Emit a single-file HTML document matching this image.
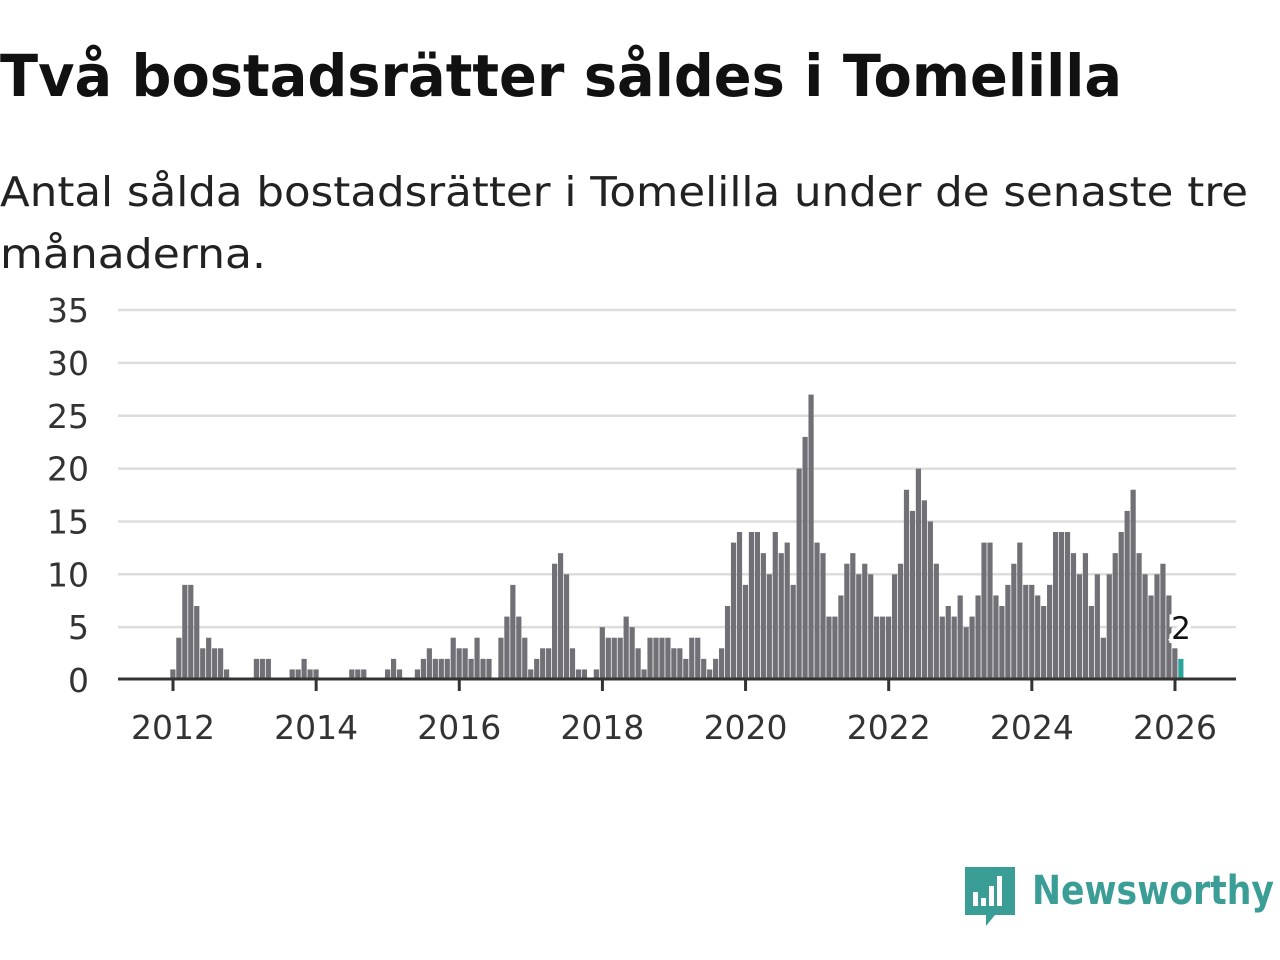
<!DOCTYPE html>
<html><head><meta charset="utf-8"><style>
html,body{margin:0;padding:0;background:#fff;}
svg{display:block;font-family:"DejaVu Sans","Liberation Sans",sans-serif;}
</style></head><body>
<svg id="chart" width="1280" height="960" viewBox="0 0 1280 960" xmlns="http://www.w3.org/2000/svg">
<text x="0" y="96" font-size="58" font-weight="bold" fill="#111" textLength="1122" lengthAdjust="spacingAndGlyphs">Två bostadsrätter såldes i Tomelilla</text>
<text x="0" y="206" font-size="41" fill="#222" textLength="1248" lengthAdjust="spacingAndGlyphs">Antal sålda bostadsrätter i Tomelilla under de senaste tre</text>
<text x="0" y="268" font-size="41" fill="#222" textLength="266" lengthAdjust="spacingAndGlyphs">månaderna.</text>
<g id="grid"></g><g id="bars"></g><g id="axes"></g>
<g>
<path d="M965 867 h50 v48 h-20 l-9 11 v-11 h-21 z" fill="#3a9e96"/>
<rect x="973" y="892" width="5" height="14" fill="#fff"/><rect x="981" y="898" width="5" height="8" fill="#fff"/><rect x="989" y="886" width="5" height="20" fill="#fff"/><rect x="997" y="876" width="5" height="30" fill="#fff"/>
<text x="1032" y="904" font-size="40" font-weight="bold" fill="#3a9e96" textLength="242" lengthAdjust="spacingAndGlyphs">Newsworthy</text>
</g>
</svg>
<script>
const values=[1,4,9,9,7,3,4,3,3,1,0,0,
0,0,2,2,2,0,0,0,1,1,2,1,
1,0,0,0,0,0,1,1,1,0,0,0,
1,2,1,0,0,1,2,3,2,2,2,4,
3,3,2,4,2,2,0,4,6,9,6,4,
1,2,3,3,11,12,10,3,1,1,0,1,
5,4,4,4,6,5,3,1,4,4,4,4,
3,3,2,4,4,2,1,2,3,7,13,14,
9,14,14,12,10,14,12,13,9,20,23,27,
13,12,6,6,8,11,12,10,11,10,6,6,
6,10,11,18,16,20,17,15,11,6,7,6,
8,5,6,8,13,13,8,7,9,11,13,9,
9,8,7,9,14,14,14,12,10,12,7,10,
4,10,12,14,16,18,12,10,8,10,11,8,
3,2];
const startYear=2012;
const yTicks=[0,5,10,15,20,25,30,35];
const xTickYears=[2012,2014,2016,2018,2020,2022,2024,2026];
const NS='http://www.w3.org/2000/svg';
const x0=173, pxYear=71.57, y0=680, pxUnit=10.57;
const xScale=m=>x0+m*pxYear/12;
const yScale=v=>y0-v*pxUnit;
function mk(tag,attrs,parent){const e=document.createElementNS(NS,tag);for(const k in attrs)e.setAttribute(k,attrs[k]);parent.appendChild(e);return e;}
const grid=document.getElementById('grid'),bars=document.getElementById('bars'),axes=document.getElementById('axes');
yTicks.forEach(t=>{
  if(t>0){const l=mk('line',{x1:118,x2:1236,y1:yScale(t),y2:yScale(t),stroke:'#dddddd','stroke-width':2.5},grid);
  
  }
  const tx=mk('text',{x:89,y:yScale(t)+12,'font-size':33,fill:'#333','text-anchor':'end'},axes);
  tx.textContent=t;
  
  
});
values.forEach((v,i)=>{
  const last=i===values.length-1;
  const r=mk('rect',{x:xScale(i)-2.7,y:yScale(v),width:5.2,height:v*pxUnit,fill:last?'#2ba59c':'#717076'},bars);
  
  
});
const li=values.length-1;
const lab=mk('text',{x:xScale(li),y:yScale(values[li])-20,'font-size':31,fill:'#111','text-anchor':'middle',stroke:'#fff','stroke-width':8,'paint-order':'stroke'},axes);
lab.textContent=values[li];


const ax=mk('line',{x1:118,x2:1236,y1:679,y2:679,stroke:'#333','stroke-width':3},axes);


xTickYears.forEach(yr=>{
  const x=xScale((yr-startYear)*12);
  const t=mk('line',{x1:x,x2:x,y1:679,y2:691,stroke:'#333','stroke-width':3},axes);
  
  
  const tx=mk('text',{x:x,y:739,'font-size':33,fill:'#333','text-anchor':'middle'},axes);
  tx.textContent=yr;
  
  
});
</script>
</body></html>
